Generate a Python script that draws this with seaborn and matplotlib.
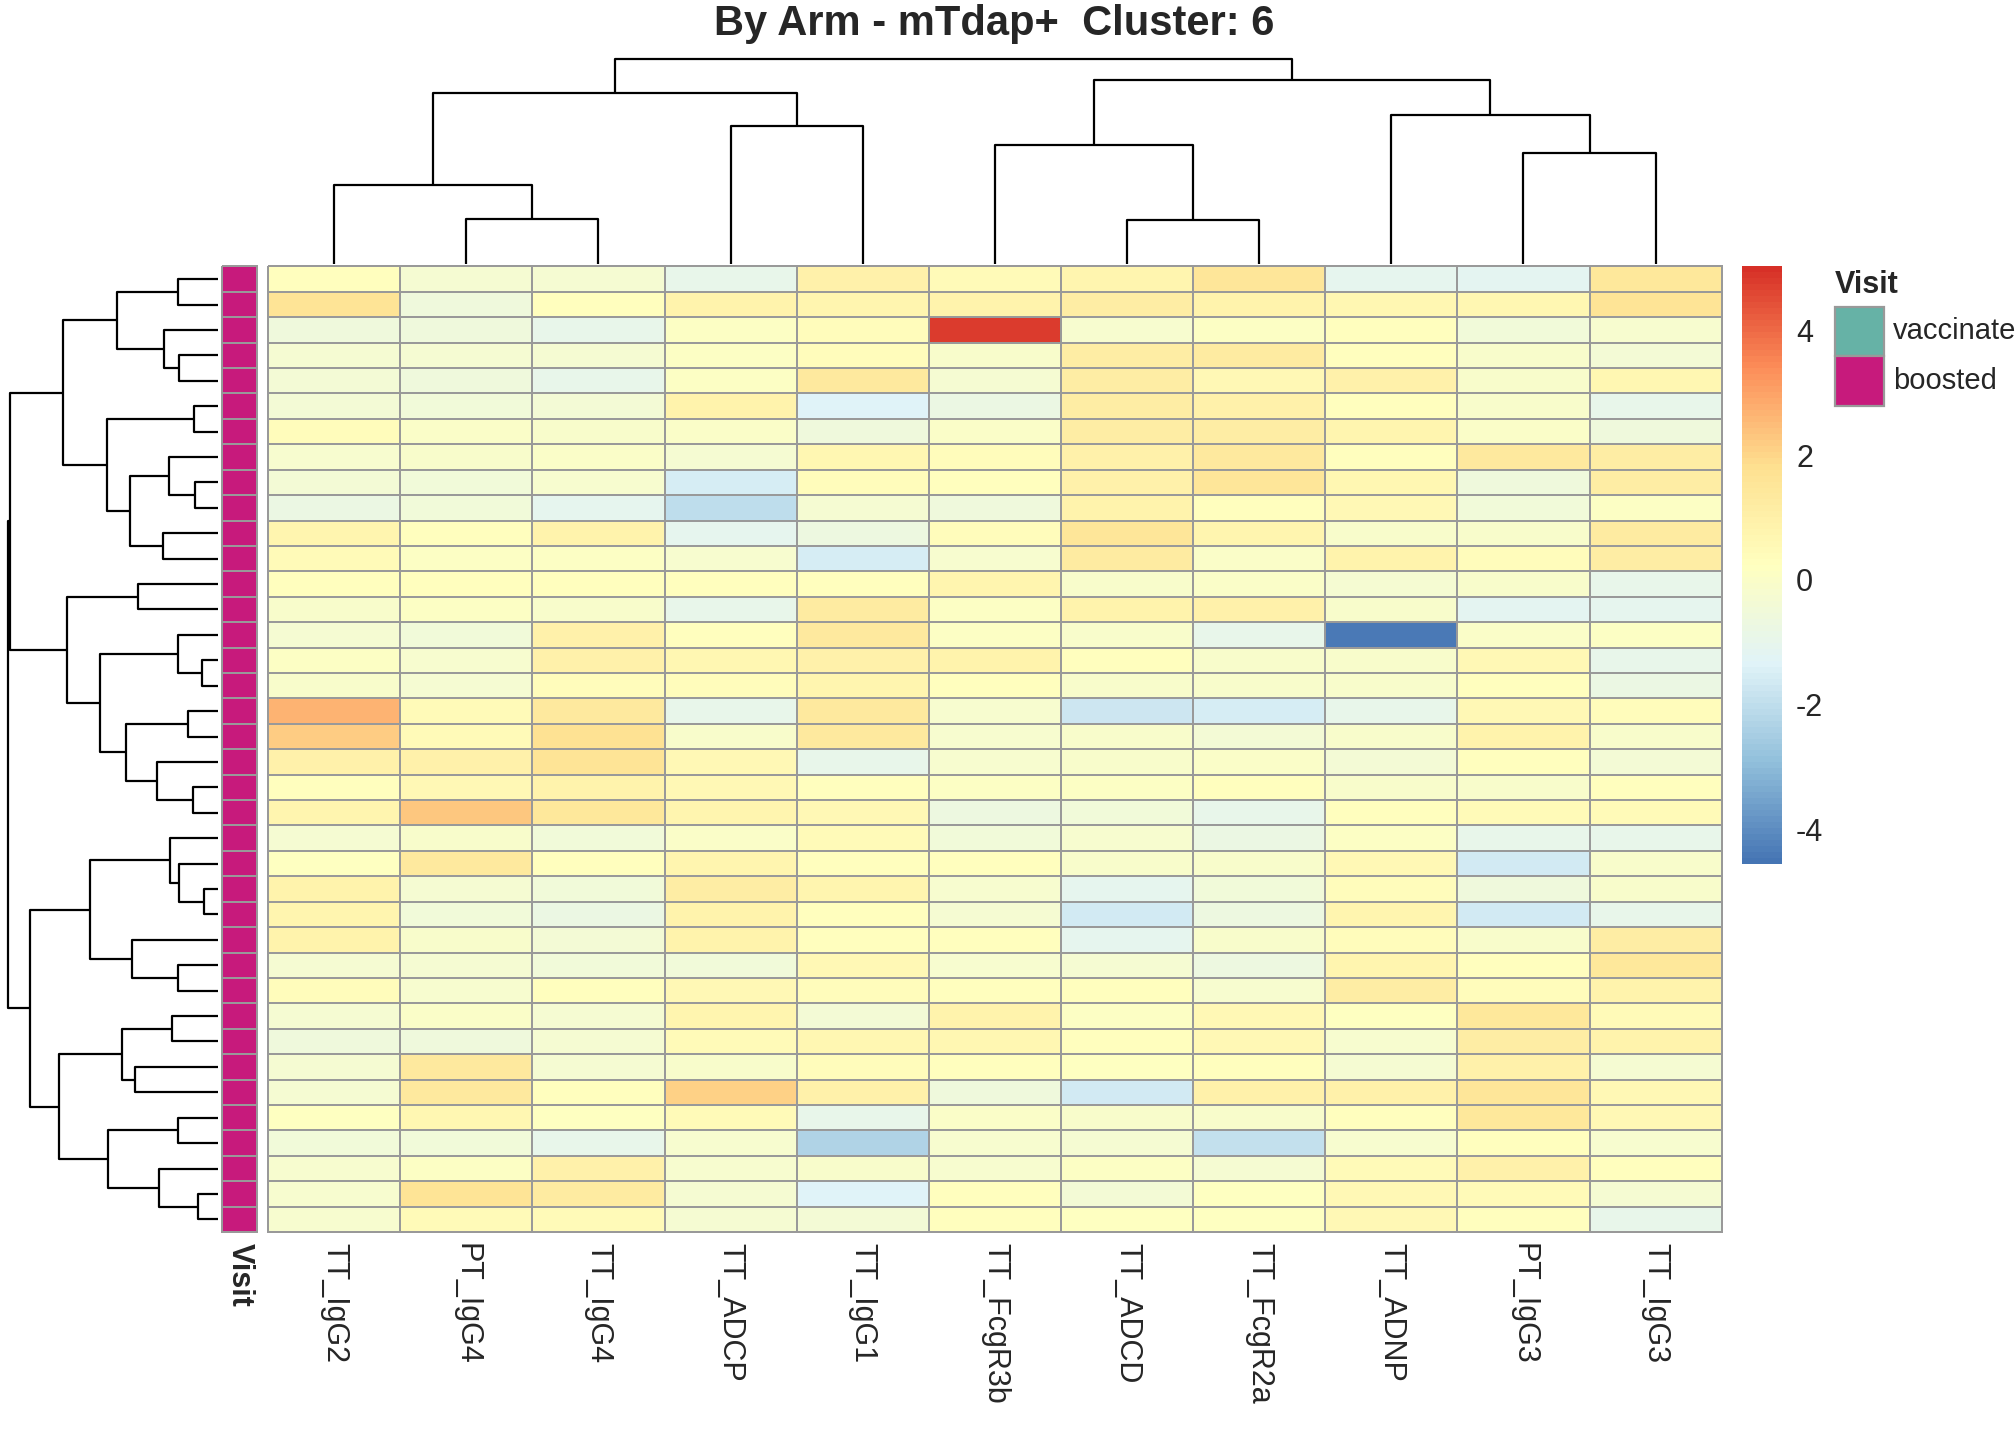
import numpy as np
import pandas as pd
import matplotlib
matplotlib.use('Agg')
import matplotlib.pyplot as plt
import seaborn as sns
from matplotlib.colors import LinearSegmentedColormap, ListedColormap
from matplotlib.patches import Rectangle

sns.set_style('white')
plt.rcParams['font.family'] = ['Liberation Sans', 'DejaVu Sans']
plt.rcParams['axes.unicode_minus'] = False

features = ['TT_IgG2', 'PT_IgG4', 'TT_IgG4', 'TT_ADCP', 'TT_IgG1', 'TT_FcgR3b',
            'TT_ADCD', 'TT_FcgR2a', 'TT_ADNP', 'PT_IgG3', 'TT_IgG3']

# z-scores, rows in displayed order
values = [
    [0.3, -0.3, -0.3, -1.0, 1.0, 0.5, 0.8, 1.5, -1.1, -1.2, 1.4],
    [1.6, -0.6, 0.3, 0.9, 0.8, 0.9, 1.1, 0.9, 0.7, 0.7, 1.6],
    [-0.6, -0.6, -1.0, 0.1, 0.4, 4.8, -0.2, 0.1, 0.3, -0.5, -0.2],
    [-0.3, -0.3, -0.3, 0.1, 0.4, -0.1, 1.1, 1.2, 0.3, -0.1, -0.4],
    [-0.4, -0.6, -1.0, 0.1, 1.3, -0.3, 1.1, 0.6, 1.0, -0.1, 0.7],
    [-0.4, -0.5, -0.4, 0.9, -1.3, -0.8, 1.1, 1.0, 0.3, -0.1, -1.0],
    [0.4, 0.0, -0.1, 0.0, -0.6, 0.0, 1.1, 1.1, 0.8, 0.0, -0.6],
    [-0.2, -0.1, 0.0, -0.3, 0.7, 0.4, 1.0, 1.3, 0.3, 1.3, 1.1],
    [-0.4, -0.5, -0.2, -1.5, 0.4, 0.3, 1.0, 1.5, 0.7, -0.6, 1.1],
    [-0.8, -0.5, -1.1, -2.0, -0.3, -0.6, 0.9, 0.3, 0.6, -0.5, 0.1],
    [0.8, 0.3, 0.9, -1.1, -0.7, 0.4, 1.5, 0.8, -0.1, -0.1, 1.2],
    [0.5, 0.1, 0.1, -0.2, -1.5, -0.2, 1.2, 0.0, 0.9, 0.4, 1.1],
    [0.3, 0.3, 0.3, 0.3, 0.3, 0.8, -0.1, 0.0, -0.3, -0.1, -1.0],
    [-0.1, 0.1, -0.1, -1.0, 1.2, 0.1, 0.9, 1.0, -0.1, -1.2, -1.1],
    [-0.3, -0.5, 1.0, 0.3, 1.3, 0.1, -0.1, -1.0, -4.4, 0.0, 0.1],
    [0.1, -0.2, 1.0, 0.7, 1.0, 0.9, 0.3, -0.1, -0.1, 0.6, -1.0],
    [-0.1, -0.3, 0.4, 0.4, 0.8, 0.3, -0.1, -0.1, -0.1, 0.3, -0.8],
    [2.7, 0.5, 1.3, -1.0, 1.3, -0.2, -1.7, -1.5, -1.0, 0.6, 0.4],
    [2.2, 0.5, 1.7, -0.1, 1.3, -0.2, -0.1, -0.4, -0.1, 0.9, -0.1],
    [1.0, 1.0, 1.6, 0.6, -1.0, -0.2, -0.1, 0.0, -0.4, 0.3, -0.4],
    [0.3, 0.6, 0.9, 0.6, 0.3, 0.1, 0.1, 0.3, -0.1, -0.1, 0.3],
    [0.8, 2.3, 1.4, 0.8, 0.6, -0.7, -0.5, -1.0, 0.3, 0.5, 0.5],
    [-0.3, -0.1, -0.5, 0.0, 0.5, -0.5, -0.2, -0.8, 0.1, -1.0, -1.0],
    [0.2, 1.3, 0.3, 0.8, 0.3, 0.3, -0.1, -0.1, 0.6, -1.6, -0.1],
    [0.9, -0.3, -0.5, 1.1, 0.8, -0.2, -1.1, -0.5, 0.4, -0.6, -0.1],
    [0.8, -0.5, -0.8, 0.9, 0.3, -0.3, -1.6, -0.7, 0.8, -1.6, -1.0],
    [0.9, -0.1, -0.4, 0.9, 0.3, 0.3, -1.1, -0.1, 0.4, -0.1, 1.1],
    [-0.3, -0.3, -0.5, -0.5, 0.6, -0.2, -0.3, -0.7, 0.8, 0.3, 1.4],
    [0.4, -0.2, 0.3, 0.6, 0.4, 0.3, 0.3, -0.2, 1.1, 0.4, 0.9],
    [-0.3, 0.0, -0.3, 0.8, -0.4, 0.9, 0.1, 0.6, 0.2, 1.4, 0.5],
    [-0.6, -0.6, -0.3, 0.5, 0.7, 0.7, 0.3, 0.6, -0.2, 1.1, 0.9],
    [-0.3, 1.3, -0.3, -0.1, 0.4, 0.3, 0.2, 0.3, -0.3, 1.0, -0.3],
    [-0.3, 1.3, 0.3, 2.1, 1.0, -0.6, -1.6, 1.0, 1.0, 1.5, 0.6],
    [0.2, 0.7, 0.2, 0.5, -1.0, 0.0, -0.1, -0.1, 0.3, 1.4, 0.6],
    [-0.5, -0.5, -1.0, -0.2, -2.3, -0.2, -0.3, -1.9, -0.2, 0.3, -0.2],
    [-0.2, 0.1, 1.0, -0.2, -0.1, -0.2, 0.1, -0.3, 0.5, 1.0, 0.3],
    [-0.2, 1.6, 1.2, -0.3, -1.3, 0.3, -0.4, 0.2, 0.6, 0.5, -0.3],
    [-0.2, 0.5, 0.5, -0.3, -0.4, 0.3, 0.2, 0.2, 0.6, 0.3, -1.0],
]
visit = ['boosted'] * len(values)
visit_levels = ['vaccinated', 'boosted']
visit_colors = ['#66B2A6', '#C71A7C']

# trees: (left, right, height); ints are leaves
col_tree = (((0, (1, 2, 35), 62), (3, 4, 109), 135),
            ((5, (6, 7, 34), 94), (8, (9, 10, 87), 117), 145), 162)
row_tree = (
    (
        (((0, 1, 120), (2, (3, 4, 117), 163), 305),
         ((5, 6, 72), ((7, (8, 9, 70), 148), (10, 11, 165), 265), 335), 467),
        ((12, 13, 240),
         ((14, (15, 16, 48), 120),
          ((17, 18, 90), (19, (20, 21, 75), 183), 277), 355), 457), 628),
    (
        ((22, (23, (24, 25, 42), 117), 145), (26, (27, 28, 120), 260), 385),
        (((29, 30, 137), (31, 32, 250), 288),
         ((33, 34, 120), (35, (36, 37, 60), 178), 332), 479), 568),
    635)

vmin, vmax = -4.56, 5.03
rdylbu = ['#4575B4', '#91BFDB', '#E0F3F8', '#FFFFBF', '#FEE090', '#FC8D59', '#D73027']
cmap = LinearSegmentedColormap.from_list('ph', rdylbu, N=100)

df = pd.DataFrame(values, columns=features)


def draw_tree(ax, node, orient):
    # returns (leaf position, height)
    if isinstance(node, int):
        return node + 0.5, 0
    p1, h1 = draw_tree(ax, node[0], orient)
    p2, h2 = draw_tree(ax, node[1], orient)
    h = node[2]
    xs = [p1, p1, p2, p2]
    ys = [h1, h, h, h2]
    if orient == 'top':
        ax.plot(xs, ys, color='black', lw=1.6, solid_capstyle='butt')
    else:
        ax.plot(ys, xs, color='black', lw=1.6, solid_capstyle='butt')
    return (p1 + p2) / 2, h


fig = plt.figure(figsize=(20.16, 14.4), dpi=100)
ax_hm = fig.add_axes([0.133, 0.1444, 0.721, 0.6706])
ax_ann = fig.add_axes([0.110, 0.1444, 0.0175, 0.6706])
ax_rd = fig.add_axes([0.003, 0.1444, 0.105, 0.6706])
ax_cd = fig.add_axes([0.133, 0.817, 0.721, 0.145])
ax_cb = fig.add_axes([0.864, 0.40, 0.020, 0.415])

sns.heatmap(df, ax=ax_hm, cmap=cmap, vmin=vmin, vmax=vmax, linewidths=1.4,
            linecolor='#999999', cbar_ax=ax_cb, yticklabels=False)
ax_hm.set_xticklabels(features, rotation=-90, fontsize=22, va='top')
ax_hm.tick_params(axis='x', length=0, pad=8)
for c in ax_hm.collections:
    c.set_clip_on(False)

codes = pd.DataFrame({'Visit': [visit_levels.index(v) for v in visit]})
sns.heatmap(codes, ax=ax_ann, cmap=ListedColormap(visit_colors), vmin=-0.5, vmax=1.5,
            linewidths=1.4, linecolor='#999999', cbar=False, yticklabels=False)
ax_ann.set_xticklabels(['Visit'], rotation=-90, fontsize=22, fontweight='bold', va='top')
ax_ann.tick_params(axis='x', length=0, pad=8)
for c in ax_ann.collections:
    c.set_clip_on(False)

ax_cb.set_yticks([-4, -2, 0, 2, 4])
ax_cb.set_yticklabels(['-4', '-2', '0', '2', '4'])
ax_cb.tick_params(labelsize=22, length=0, pad=10)

draw_tree(ax_rd, row_tree, 'left')
ax_rd.set_ylim(len(values), 0)
ax_rd.set_xlim(640, 0)
ax_rd.axis('off')

draw_tree(ax_cd, col_tree, 'top')
ax_cd.set_xlim(0, len(features))
ax_cd.set_ylim(0, 165)
ax_cd.axis('off')

# legend for Visit
fig.text(0.910, 0.802, 'Visit', fontsize=22, fontweight='bold', va='center')
for i, (lab, col) in enumerate(zip(visit_levels, visit_colors)):
    y0 = 0.787 - i * 0.0345
    fig.patches.append(Rectangle((0.910, y0 - 0.0345), 0.0245, 0.0345, transform=fig.transFigure,
                                 facecolor=col, edgecolor='#999999', lw=1.6))
    fig.text(0.939, y0 - 0.0172, lab, fontsize=21, va='center')

fig.suptitle('By Arm - mTdap+  Cluster: 6', x=0.493, y=0.997, va='top',
             fontsize=30, fontweight='bold')

fig.savefig('out.png', dpi=100)
